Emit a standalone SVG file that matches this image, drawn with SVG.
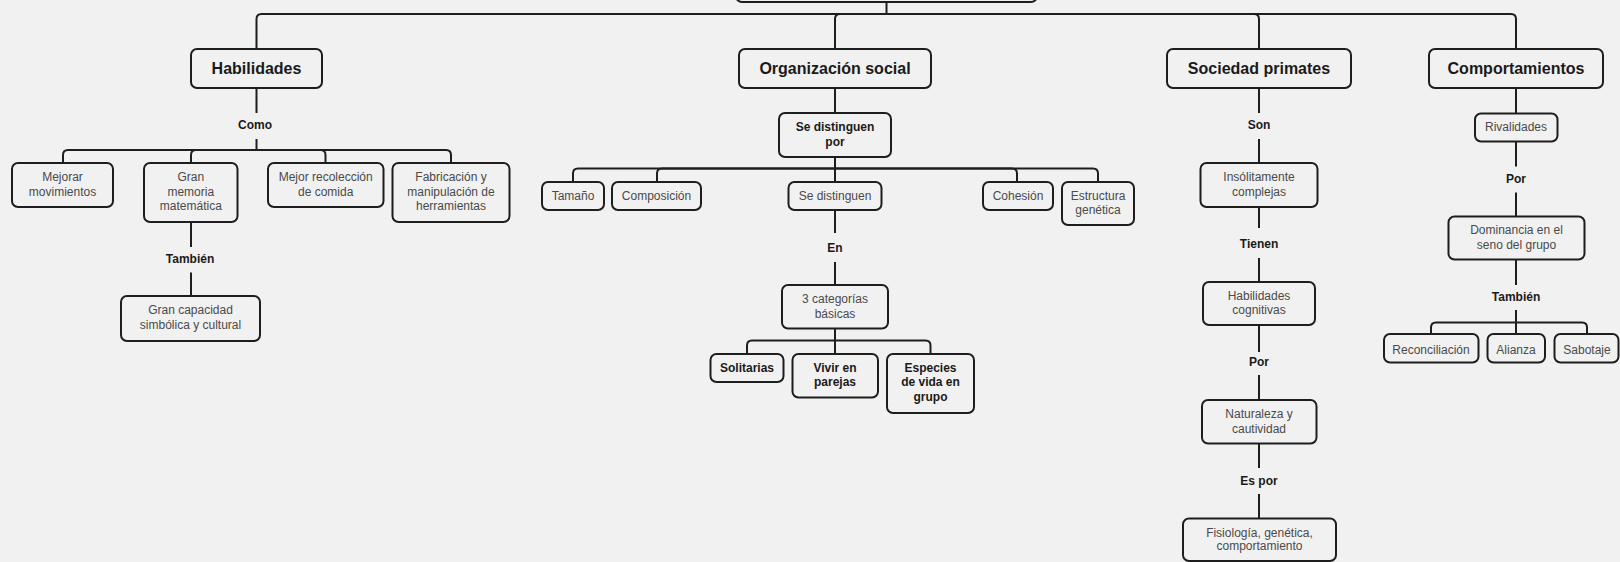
<svg xmlns="http://www.w3.org/2000/svg" width="1620" height="562" viewBox="0 0 1620 562">
<style>
.bg{fill:#f1f1f1}
.n{fill:#f1f1f1;stroke:#1e1e1e;stroke-width:2}
.c{fill:none;stroke:#1e1e1e;stroke-width:2}
text{font-family:"Liberation Sans",Arial,sans-serif;text-anchor:middle}
.h{font-size:16px;font-weight:bold;fill:#1a1a1a}
.t{font-size:12px;fill:#4a4a4a}
.b{font-size:12px;font-weight:bold;fill:#1a1a1a}
</style>
<rect class="bg" x="0" y="0" width="1620" height="562"/>
<g id="connectors">
<path class="c" d="M886.5 2V14"/>
<path class="c" d="M886.5 14H261.5Q256.5 14 256.5 19V49"/>
<path class="c" d="M886.5 14H840Q835 14 835 19V49"/>
<path class="c" d="M886.5 14H1254Q1259 14 1259 19V49"/>
<path class="c" d="M886.5 14H1511Q1516 14 1516 19V49"/>
<path class="c" d="M256.5 88V113M256.5 139V150"/>
<path class="c" d="M256.5 150H68Q63 150 63 155V163"/>
<path class="c" d="M256.5 150H196Q191 150 191 155V163"/>
<path class="c" d="M256.5 150H320.5Q325.5 150 325.5 155V163"/>
<path class="c" d="M256.5 150H446Q451 150 451 155V163"/>
<path class="c" d="M191 222V247M191 272.5V296"/>
<path class="c" d="M835 88V113M835 157V168.5"/>
<path class="c" d="M835 168.5H578Q573 168.5 573 173.5V182"/>
<path class="c" d="M835 168.5H662Q657 168.5 657 173.5V182"/>
<path class="c" d="M835 168.5V182"/>
<path class="c" d="M835 168.5H1012Q1017 168.5 1017 173.5V182"/>
<path class="c" d="M835 168.5H1093Q1098 168.5 1098 173.5V182"/>
<path class="c" d="M835 210V233M835 262V285"/>
<path class="c" d="M835 328.5V340.5"/>
<path class="c" d="M835 340.5H752Q747 340.5 747 345.5V354"/>
<path class="c" d="M835 340.5V354"/>
<path class="c" d="M835 340.5H925.5Q930.5 340.5 930.5 345.5V354"/>
<path class="c" d="M1259 88V113M1259 139V163M1259 207V228M1259 258V282M1259 325V352M1259 375V400M1259 443.5V468M1259 494V518.5"/>
<path class="c" d="M1516 88V113.5M1516 141.5V166.5M1516 192.5V216.5M1516 259.5V285M1516 310V322.5"/>
<path class="c" d="M1516 322.5H1436Q1431 322.5 1431 327.5V334"/>
<path class="c" d="M1516 322.5V334"/>
<path class="c" d="M1516 322.5H1582Q1587 322.5 1587 327.5V334"/>
</g>
<g id="labels">
<text class="b" x="255" y="129.3">Como</text>
<text class="b" x="190" y="263.3">También</text>
<text class="b" x="835" y="252">En</text>
<text class="b" x="1259" y="129.3">Son</text>
<text class="b" x="1259" y="248.3">Tienen</text>
<text class="b" x="1259" y="366">Por</text>
<text class="b" x="1259" y="485">Es por</text>
<text class="b" x="1516" y="183.3">Por</text>
<text class="b" x="1516" y="301">También</text>
</g>
<g id="root"><rect class="n" x="736" y="-40" width="301" height="42" rx="6"/></g>
<g id="habilidades"><rect class="n" x="191" y="49" width="131" height="39" rx="6"/><text class="h" x="256.5" y="74.2">Habilidades</text></g>
<g id="organizacion"><rect class="n" x="739" y="49" width="192" height="39" rx="6"/><text class="h" x="835" y="74.2">Organización social</text></g>
<g id="sociedad"><rect class="n" x="1167" y="49" width="184" height="39" rx="6"/><text class="h" x="1259" y="74.2">Sociedad primates</text></g>
<g id="comportamientos"><rect class="n" x="1429" y="49" width="174" height="39" rx="6"/><text class="h" x="1516" y="74.2">Comportamientos</text></g>
<g id="mejorar"><rect class="n" x="12" y="163" width="101" height="44" rx="6"/><text class="t" x="62.5" y="181.3">Mejorar</text><text class="t" x="62.5" y="195.5">movimientos</text></g>
<g id="memoria"><rect class="n" x="144" y="163" width="93.5" height="59" rx="6"/><text class="t" x="190.8" y="181.3">Gran</text><text class="t" x="190.8" y="195.5">memoria</text><text class="t" x="190.8" y="209.8">matemática</text></g>
<g id="recoleccion"><rect class="n" x="268" y="163" width="115.5" height="44" rx="6"/><text class="t" x="325.7" y="181.3">Mejor recolección</text><text class="t" x="325.7" y="195.5">de comida</text></g>
<g id="fabricacion"><rect class="n" x="392.5" y="163" width="117" height="59" rx="6"/><text class="t" x="451" y="181.3">Fabricación y</text><text class="t" x="451" y="195.5">manipulación de</text><text class="t" x="451" y="209.8">herramientas</text></g>
<g id="capacidad"><rect class="n" x="121" y="296" width="139" height="45" rx="6"/><text class="t" x="190.5" y="314.3">Gran capacidad</text><text class="t" x="190.5" y="328.8">simbólica y cultural</text></g>
<g id="distinguenpor"><rect class="n" x="779" y="113" width="112" height="44" rx="6"/><text class="b" x="835" y="131">Se distinguen</text><text class="b" x="835" y="146">por</text></g>
<g id="tamano"><rect class="n" x="542" y="182" width="62" height="28" rx="6"/><text class="t" x="573" y="200.3">Tamaño</text></g>
<g id="composicion"><rect class="n" x="612" y="182" width="89" height="28" rx="6"/><text class="t" x="656.5" y="200.3">Composición</text></g>
<g id="distinguen"><rect class="n" x="788.5" y="182" width="93" height="28" rx="6"/><text class="t" x="835" y="200.3">Se distinguen</text></g>
<g id="cohesion"><rect class="n" x="983" y="182" width="70" height="28" rx="6"/><text class="t" x="1018" y="200.3">Cohesión</text></g>
<g id="estructura"><rect class="n" x="1062" y="182" width="72" height="43" rx="6"/><text class="t" x="1098" y="200">Estructura</text><text class="t" x="1098" y="214.3">genética</text></g>
<g id="categorias"><rect class="n" x="782" y="285" width="106" height="43.5" rx="6"/><text class="t" x="835" y="303.3">3 categorías</text><text class="t" x="835" y="317.6">básicas</text></g>
<g id="solitarias"><rect class="n" x="710.5" y="354" width="73" height="28" rx="6"/><text class="b" x="747" y="372">Solitarias</text></g>
<g id="parejas"><rect class="n" x="792.5" y="354" width="85.5" height="43.5" rx="6"/><text class="b" x="835" y="372">Vivir en</text><text class="b" x="835" y="386.3">parejas</text></g>
<g id="especies"><rect class="n" x="887" y="354" width="87" height="59" rx="6"/><text class="b" x="930.5" y="372">Especies</text><text class="b" x="930.5" y="386.3">de vida en</text><text class="b" x="930.5" y="400.6">grupo</text></g>
<g id="insolitamente"><rect class="n" x="1200.5" y="163" width="117" height="44" rx="6"/><text class="t" x="1259" y="181.3">Insólitamente</text><text class="t" x="1259" y="195.5">complejas</text></g>
<g id="cognitivas"><rect class="n" x="1203" y="282" width="112" height="43" rx="6"/><text class="t" x="1259" y="299.6">Habilidades</text><text class="t" x="1259" y="314.3">cognitivas</text></g>
<g id="naturaleza"><rect class="n" x="1202" y="400" width="114.5" height="43.5" rx="6"/><text class="t" x="1259" y="418.3">Naturaleza y</text><text class="t" x="1259" y="432.6">cautividad</text></g>
<g id="fisiologia"><rect class="n" x="1183" y="518.5" width="153" height="42.5" rx="6"/><text class="t" x="1259.5" y="537">Fisiología, genética,</text><text class="t" x="1259.5" y="550.3">comportamiento</text></g>
<g id="rivalidades"><rect class="n" x="1475" y="113.5" width="82.5" height="28" rx="6"/><text class="t" x="1516" y="131.3">Rivalidades</text></g>
<g id="dominancia"><rect class="n" x="1448.5" y="216.5" width="136" height="43" rx="6"/><text class="t" x="1516.5" y="234.3">Dominancia en el</text><text class="t" x="1516.5" y="249.3">seno del grupo</text></g>
<g id="reconciliacion"><rect class="n" x="1384" y="334" width="94.5" height="28.5" rx="6"/><text class="t" x="1431" y="353.6">Reconciliación</text></g>
<g id="alianza"><rect class="n" x="1487.5" y="334" width="57.5" height="28.5" rx="6"/><text class="t" x="1516" y="353.6">Alianza</text></g>
<g id="sabotaje"><rect class="n" x="1554.5" y="334" width="64" height="28.5" rx="6"/><text class="t" x="1587" y="353.6">Sabotaje</text></g>
</svg>
